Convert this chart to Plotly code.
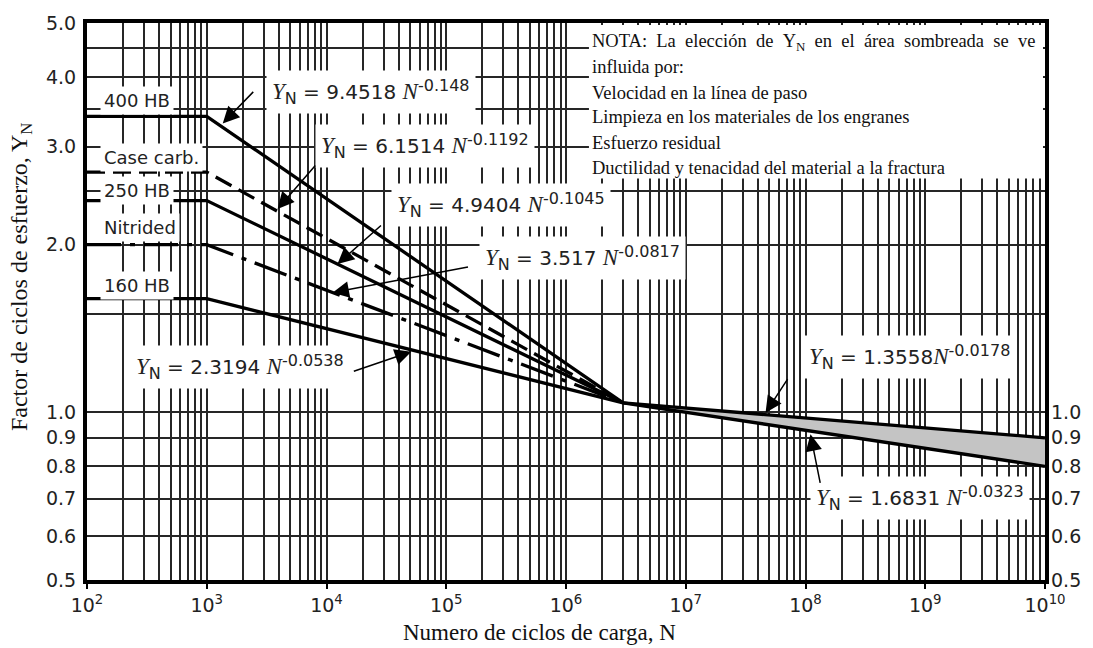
import plotly.graph_objects as go

# ---------------- data ----------------
cycles_head = [1e2, 1e3, 3e6]          # left edge, knee, convergence point
yn_400hb = [3.4, 3.4, 1.04]
yn_case_carb = [2.7, 2.7, 1.04]
yn_250hb = [2.4, 2.4, 1.04]
yn_nitrided = [2.0, 2.0, 1.04]
yn_160hb = [1.6, 1.6, 1.04]
cycles_tail = [3e6, 1e10]
yn_tail_upper = [1.04, 0.90]
yn_tail_lower = [1.04, 0.80]

material_labels = ["400 HB", "Case carb.", "250 HB", "Nitrided", "160 HB"]
eq_coefs = ["9.4518", "6.1514", "4.9404", "3.517", "2.3194", "1.3558", "1.6831"]
eq_exps = ["-0.148", "-0.1192", "-0.1045", "-0.0817", "-0.0538", "-0.0178", "-0.0323"]

x_tick_vals = [1e2, 1e3, 1e4, 1e5, 1e6, 1e7, 1e8, 1e9, 1e10]
x_tick_text = ["10<sup>2</sup>", "10<sup>3</sup>", "10<sup>4</sup>", "10<sup>5</sup>",
               "10<sup>6</sup>", "10<sup>7</sup>", "10<sup>8</sup>", "10<sup>9</sup>",
               "10<sup>10</sup>"]
x_minor_vals = [m * 10 ** k for k in range(2, 10) for m in range(2, 10)]
y_tick_vals_left = [0.5, 0.6, 0.7, 0.8, 0.9, 1.0, 2.0, 3.0, 4.0, 5.0]
y_tick_text_left = ["0.5", "0.6", "0.7", "0.8", "0.9", "1.0", "2.0", "3.0", "4.0", "5.0"]
y_tick_vals_right = [0.5, 0.6, 0.7, 0.8, 0.9, 1.0]
y_tick_text_right = ["0.5", "0.6", "0.7", "0.8", "0.9", "1.0"]
y_minor_vals = [1.5, 2.5, 3.5, 4.5]

NB = "\u00a0\u00a0"
note_lines = [
    NB.join(["NOTA:", "La", "elección", "de", "Y<sub>N</sub>", "en", "el", "área",
             "sombreada", "se", "ve"]),
    "influida por:",
    "Velocidad en la línea de paso",
    "Limpieza en los materiales de los engranes",
    "Esfuerzo residual",
    "Ductilidad y tenacidad del material a la fractura",
]

# ---------------- geometry helpers (plot area in pixels) ----------------
L, R, T, B = 87, 1047, 14, 580
W, H = 1093, 648


def P(xpx, ypx):
    return (xpx - L) / (R - L), (B - ypx) / (B - T)


SANS = "DejaVu Sans"
SERIF = "Liberation Serif"
LW = 3.3

fig = go.Figure()

line_styles = ["solid", "18px,8px", "solid", "34px,9px,5px,9px", "solid"]
for name, ys, dash in zip(material_labels,
                          [yn_400hb, yn_case_carb, yn_250hb, yn_nitrided, yn_160hb],
                          line_styles):
    fig.add_trace(go.Scatter(x=cycles_head, y=ys, mode="lines", name=name,
                             line=dict(color="black", width=LW, dash=dash),
                             showlegend=False, hoverinfo="skip"))

fig.add_trace(go.Scatter(x=cycles_tail, y=yn_tail_lower, mode="lines",
                         line=dict(color="black", width=LW), showlegend=False))
fig.add_trace(go.Scatter(x=cycles_tail, y=yn_tail_upper, mode="lines", fill="tonexty",
                         fillcolor="#c4c4c4",
                         line=dict(color="black", width=LW), showlegend=False))
# invisible trace so the right-hand axis is drawn
fig.add_trace(go.Scatter(x=[1e2], y=[1.0], yaxis="y2", mode="markers",
                         marker=dict(opacity=0), showlegend=False, hoverinfo="skip"))

grid_col = "#262626"
grid_w = 1.8
TICKF = dict(family=SANS, size=19, color="#222")

fig.update_layout(
    width=W, height=H, autosize=False,
    margin=dict(l=L, r=W - R, t=T, b=H - B),
    paper_bgcolor="white", plot_bgcolor="white",
    xaxis=dict(type="log", range=[2, 10], tickvals=x_tick_vals, ticktext=x_tick_text,
               showgrid=True, gridcolor=grid_col, gridwidth=grid_w,
               minor=dict(tickvals=x_minor_vals, showgrid=True, gridcolor=grid_col,
                          gridwidth=grid_w, ticks=""),
               ticks="outside", ticklen=5, tickwidth=2, tickcolor="black",
               showline=True, linecolor="black", linewidth=4, mirror=True,
               tickfont=TICKF, zeroline=False),
    yaxis=dict(type="log", range=[-0.30103, 0.69897], tickvals=y_tick_vals_left,
               ticktext=y_tick_text_left,
               showgrid=True, gridcolor=grid_col, gridwidth=grid_w,
               minor=dict(tickvals=y_minor_vals, showgrid=True, gridcolor=grid_col,
                          gridwidth=grid_w, ticks=""),
               ticks="", showline=True, linecolor="black", linewidth=4, mirror=True,
               tickfont=TICKF, zeroline=False, ticklabelstandoff=3),
    yaxis2=dict(type="log", range=[-0.30103, 0.69897], overlaying="y", side="right",
                tickvals=y_tick_vals_right, ticktext=y_tick_text_right, showgrid=False,
                ticks="", showline=False, zeroline=False, tickfont=TICKF,
                ticklabelstandoff=5),
)

# white box for the note
nx0, ny0 = P(590, 172)
nx1, ny1 = P(1045, 16)
fig.add_shape(type="rect", xref="paper", yref="paper", x0=nx0, y0=ny0, x1=nx1, y1=ny1,
              fillcolor="white", line=dict(width=0), layer="above")

ann = []
note_y = [34, 59, 85, 110, 136, 161]
for txt, yy in zip(note_lines, note_y):
    x, y = P(591, yy)
    ann.append(dict(x=x, y=y, xref="paper", yref="paper", text=txt, showarrow=False,
                    xanchor="left", yanchor="middle",
                    font=dict(family=SERIF, size=18.5, color="#111")))

# material labels
label_pos = [(100, 93), (100, 151), (100, 184), (100, 222), (100, 281)]
for txt, (xx, yy) in zip(material_labels, label_pos):
    x, y = P(xx, yy)
    ann.append(dict(x=x, y=y, xref="paper", yref="paper", text=txt, showarrow=False,
                    xanchor="left", yanchor="middle", bgcolor="white", borderpad=3,
                    font=dict(family=SANS, size=18, color="#222")))


def eq_text(c, e, space=True):
    sp = " " if space else ""
    it = '<span style="font-family:Liberation Serif;font-size:23px"><i>%s</i></span>'
    return (it % "Y" + '<sub><span style="font-size:16px">N</span></sub> = ' + c + sp
            + it % "N" + '<sup><span style="font-size:16px">' + e + '</span></sup>')


eq_centers = [(372, 84), (426, 139), (502, 199), (584, 253), (240, 364), (911, 353),
              (922, 497)]
eq_space = [True, True, True, True, True, False, True]
for c, e, (xx, yy), sp in zip(eq_coefs, eq_exps, eq_centers, eq_space):
    x, y = P(xx, yy)
    ann.append(dict(x=x, y=y, xref="paper", yref="paper", text=eq_text(c, e, sp),
                    showarrow=False, xanchor="center", yanchor="middle",
                    bgcolor="white", borderpad=5,
                    font=dict(family=SANS, size=20, color="#222")))

arrows = [((223, 116), (255, 83)), ((278, 203), (317, 158)), ((338, 259), (383, 219)),
          ((333, 288), (470, 262)), ((412, 348), (353, 368)), ((767, 410), (790, 375)),
          ((812, 432), (822, 482))]
for (hx, hy), (tx, ty) in arrows:
    x, y = P(hx, hy)
    ann.append(dict(x=x, y=y, xref="paper", yref="paper", text="", showarrow=True,
                    ax=tx - hx, ay=ty - hy, arrowhead=2, arrowsize=2.2, arrowwidth=1.5,
                    arrowcolor="black", standoff=0, startstandoff=0))

# axis titles
x, y = P(540, 633)
ann.append(dict(x=x, y=y, xref="paper", yref="paper", text="Numero de ciclos de carga, N",
                showarrow=False, xanchor="center", yanchor="middle",
                font=dict(family=SERIF, size=23, color="#111")))
x, y = P(21, 272)
ann.append(dict(x=x, y=y, xref="paper", yref="paper",
                text="Factor de ciclos de esfuerzo, Y<sub>N</sub>", textangle=-90,
                showarrow=False, xanchor="center", yanchor="middle",
                font=dict(family=SERIF, size=24, color="#111")))

fig.update_layout(annotations=ann)
fig.write_html("out.html")
